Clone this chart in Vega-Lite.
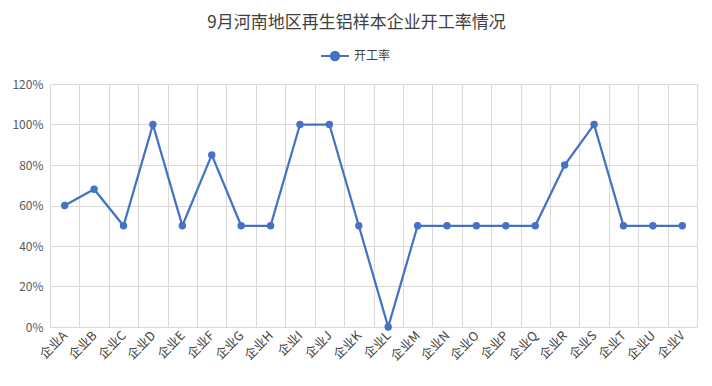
{
  "$schema": "https://vega.github.io/schema/vega-lite/v6.json",
  "autosize": "none",
  "width": 647,
  "height": 243,
  "padding": {"left": 50, "top": 84, "right": 15, "bottom": 59},
  "background": "#ffffff",
  "config": {
    "font": "Noto Sans CJK SC",
    "view": {"stroke": null}
  },
  "title": {
    "text": "9月河南地区再生铝样本企业开工率情况",
    "fontSize": 17,
    "fontWeight": "normal",
    "color": "#404040",
    "anchor": "middle",
    "dx": -17,
    "offset": 9,
    "font": "Noto Sans CJK SC"
  },
  "data": {
    "values": [
      {"企业": "企业A", "series": "开工率", "value": 0.6},
      {"企业": "企业B", "series": "开工率", "value": 0.68},
      {"企业": "企业C", "series": "开工率", "value": 0.5},
      {"企业": "企业D", "series": "开工率", "value": 1.0},
      {"企业": "企业E", "series": "开工率", "value": 0.5},
      {"企业": "企业F", "series": "开工率", "value": 0.85},
      {"企业": "企业G", "series": "开工率", "value": 0.5},
      {"企业": "企业H", "series": "开工率", "value": 0.5},
      {"企业": "企业I", "series": "开工率", "value": 1.0},
      {"企业": "企业J", "series": "开工率", "value": 1.0},
      {"企业": "企业K", "series": "开工率", "value": 0.5},
      {"企业": "企业L", "series": "开工率", "value": 0.0},
      {"企业": "企业M", "series": "开工率", "value": 0.5},
      {"企业": "企业N", "series": "开工率", "value": 0.5},
      {"企业": "企业O", "series": "开工率", "value": 0.5},
      {"企业": "企业P", "series": "开工率", "value": 0.5},
      {"企业": "企业Q", "series": "开工率", "value": 0.5},
      {"企业": "企业R", "series": "开工率", "value": 0.8},
      {"企业": "企业S", "series": "开工率", "value": 1.0},
      {"企业": "企业T", "series": "开工率", "value": 0.5},
      {"企业": "企业U", "series": "开工率", "value": 0.5},
      {"企业": "企业V", "series": "开工率", "value": 0.5}
    ]
  },
  "mark": {
    "type": "line",
    "strokeWidth": 2.25,
    "point": {"filled": true, "size": 55, "opacity": 1}
  },
  "encoding": {
    "x": {
      "field": "企业",
      "type": "nominal",
      "sort": null,
      "scale": {"type": "band", "paddingInner": 0, "paddingOuter": 0},
      "axis": {
        "title": null,
        "grid": true,
        "gridColor": "#d9d9d9",
        "gridWidth": 1,
        "tickBand": "extent",
        "ticks": false,
        "domain": true,
        "domainColor": "#d9d9d9",
        "labelAngle": -45,
        "labelAlign": "right",
        "labelBaseline": "middle",
        "labelPadding": 6,
        "labelFontSize": 12.5,
        "labelColor": "#404040",
        "labelFont": "Noto Sans CJK SC"
      }
    },
    "y": {
      "field": "value",
      "type": "quantitative",
      "scale": {"domain": [0, 1.2], "nice": false},
      "axis": {
        "title": null,
        "values": [0, 0.2, 0.4, 0.6, 0.8, 1.0, 1.2],
        "format": ".0%",
        "grid": true,
        "gridColor": "#d9d9d9",
        "domain": false,
        "ticks": false,
        "labelPadding": 7,
        "labelFontSize": 12,
        "labelColor": "#595959",
        "labelFont": "Noto Sans CJK SC"
      }
    },
    "color": {
      "field": "series",
      "type": "nominal",
      "scale": {"range": ["#4472C4"]},
      "legend": {
        "title": null,
        "orient": "none",
        "legendX": 270,
        "legendY": -43,
        "symbolType": "M-1,0H-0.3M0.3,0H1M-0.3,0A0.3,0.3 0 1,0 0.3,0A0.3,0.3 0 1,0 -0.3,0Z",
        "symbolSize": 784,
        "symbolStrokeWidth": 2,
        "symbolFillColor": "#4472C4",
        "symbolStrokeColor": "#4472C4",
        "labelFontSize": 12,
        "labelColor": "#404040",
        "labelFont": "Noto Sans CJK SC",
        "labelOffset": 4
      }
    }
  }
}
